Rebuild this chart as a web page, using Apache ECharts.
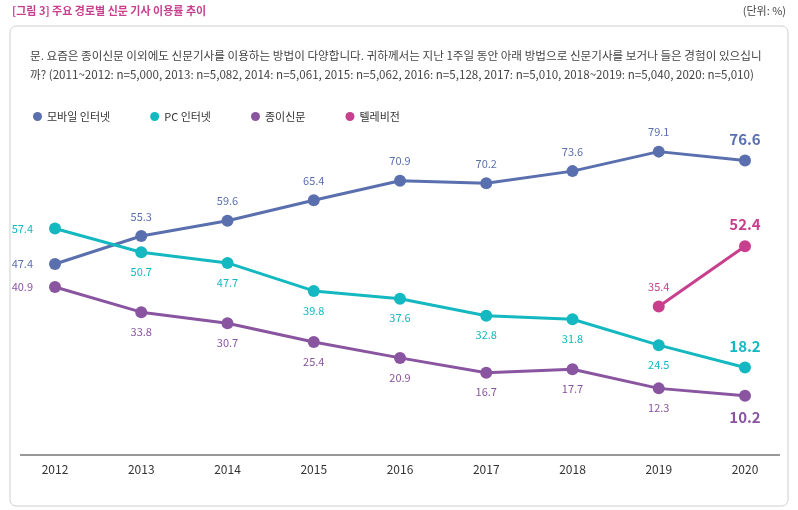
<!DOCTYPE html>
<html><head><meta charset="utf-8">
<script src="https://cdn.jsdelivr.net/npm/echarts@6/dist/echarts.min.js"></script>
<style>body{margin:0;background:#fff}#c{width:798px;height:510px}</style></head>
<body><div id="c"></div>
<script>
const years=['2012','2013','2014','2015','2016','2017','2018','2019','2020'];
const mobile=[47.4,55.3,59.6,65.4,70.9,70.2,73.6,79.1,76.6];
const pc=[57.4,50.7,47.7,39.8,37.6,32.8,31.8,24.5,18.2];
const paper=[40.9,33.8,30.7,25.4,20.9,16.7,17.7,12.3,10.2];
const tv=[null,null,null,null,null,null,null,35.4,52.4];
const F='"Noto Sans CJK KR","Noto Sans",sans-serif';
function mk(arr,color,pos,firstPos,lastPos){
  return arr.map((v,i)=>{
    if(v==null) return null;
    let lab={position:pos,distance:8,fontSize:11,color:color};
    if(i===0&&firstPos){lab.position=firstPos;lab.distance=16;}
    if(i===arr.length-1){lab={position:lastPos,distance:8,fontSize:15,fontWeight:'bold',color:color};}
    return {value:v,label:lab};
  });
}
function s(name,arr,color,pos,firstPos,lastPos){
  return {name,type:'line',data:mk(arr,color,pos,firstPos,lastPos),color,symbol:'circle',symbolSize:12,
    lineStyle:{width:3,color},itemStyle:{color},label:{show:true,fontFamily:F,formatter:p=>p.value.toFixed(1)},connectNulls:false};
}
const chart=echarts.init(document.getElementById('c'));
chart.setOption({
  animation:false,
  textStyle:{fontFamily:F},
  graphic:[
    {type:'text',left:12,top:5,style:{text:'[그림 3] 주요 경로별 신문 기사 이용률 추이',fill:'#c83f8e',font:'bold 11px '+F}},
    {type:'text',right:12,top:5,style:{text:'(단위: %)',fill:'#444',font:'11px '+F}},
    {type:'rect',shape:{x:10,y:26,width:778,height:480,r:6},style:{fill:'none',stroke:'#cfcfcf',lineWidth:1},z:-1},
    {type:'line',shape:{x1:20,y1:455,x2:780,y2:455},style:{stroke:'#333',lineWidth:1}},
    {type:'text',left:30,top:46,style:{text:'문. 요즘은 종이신문 이외에도 신문기사를 이용하는 방법이 다양합니다. 귀하께서는 지난 1주일 동안 아래 방법으로 신문기사를 보거나 들은 경험이 있으십니\n까? (2011~2012: n=5,000, 2013: n=5,082, 2014: n=5,061, 2015: n=5,062, 2016: n=5,128, 2017: n=5,010, 2018~2019: n=5,040, 2020: n=5,010)',fill:'#444',font:'11.6px '+F,lineHeight:19}}
  ],
  legend:{left:28,top:106,icon:'circle',itemWidth:9,itemHeight:9,itemGap:40,textStyle:{fontSize:11,color:'#333',fontFamily:F}},
  grid:{left:55,right:53,top:113,bottom:55},
  xAxis:{type:'category',data:years,boundaryGap:false,axisLine:{show:false,onZero:false},axisTick:{show:false},axisLabel:{color:'#333',fontSize:12,margin:8}},
  yAxis:{type:'value',min:-6.5,max:90,show:false,splitLine:{show:false}},
  series:[
    s('모바일 인터넷',mobile,'#5a6fae','top','left','top'),
    s('PC 인터넷',pc,'#14b8c0','bottom','left','top'),
    s('종이신문',paper,'#8a55a0','bottom','left','bottom'),
    s('텔레비전',tv,'#c83f8e','top',null,'top')
  ]
});
</script></body></html>
